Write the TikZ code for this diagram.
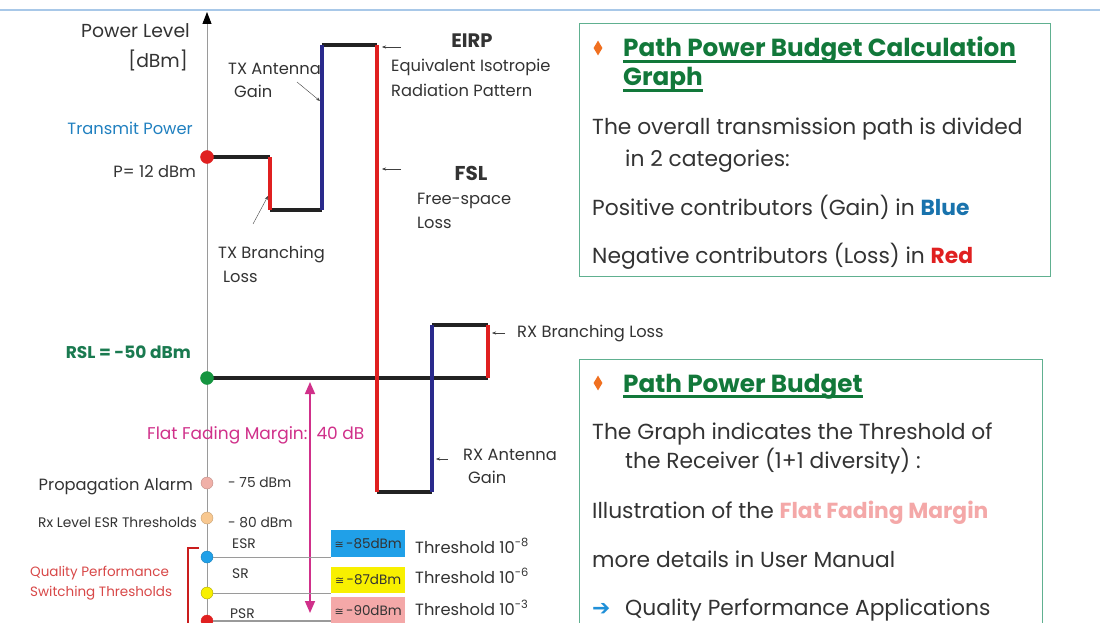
\documentclass[tikz,border=0pt]{standalone}
\usepackage{fontspec}
\setmainfont{Poppins}
\newfontfamily\symfont{DejaVu Sans}
\usetikzlibrary{arrows.meta,positioning,shapes.geometric}

\definecolor{stepblack}{HTML}{222222}
\definecolor{gainblue}{HTML}{2A2A8C}
\definecolor{lossred}{HTML}{E02020}
\definecolor{axisgray}{HTML}{9A9A9A}
\definecolor{txtgray}{HTML}{333333}
\definecolor{txblue}{HTML}{2080C0}
\definecolor{rslgreen}{HTML}{1A7A50}
\definecolor{ffmag}{HTML}{D0308A}
\definecolor{panelgreen}{HTML}{60B090}
\definecolor{headgreen}{HTML}{12783A}
\definecolor{bulletorange}{HTML}{F07020}
\definecolor{topblue}{HTML}{A8C8E8}
\definecolor{qpred}{HTML}{D84848}
\definecolor{esrblue}{HTML}{20A0E8}
\definecolor{sryellow}{HTML}{F8F000}
\definecolor{psrpink}{HTML}{F4A8A8}
\definecolor{palarm}{HTML}{F0B0A8}
\definecolor{esrorange}{HTML}{F8C890}
\definecolor{arrowblue}{HTML}{2090D8}

\begin{document}
\begin{tikzpicture}[x=1pt,y=-1pt,>=Latex,
  lvl/.style={line width=3.5pt,draw=stepblack},
  gain/.style={line width=4.5pt,draw=gainblue},
  loss/.style={line width=4.5pt,draw=lossred},
  lbl/.style={font=\fontsize{16.3}{18}\selectfont,text=txtgray,inner sep=0pt},
  small/.style={font=\fontsize{13.8}{16}\selectfont},
  lead/.style={-{Stealth[length=4pt,width=3pt]},thin,draw=darkgray},
  dot/.style={circle,draw,minimum size=12pt,inner sep=0pt},
  thrbox/.style={minimum width=74pt,minimum height=27pt,inner sep=1pt,font=\fontsize{13.5}{15}\selectfont,text=txtgray},
  thrline/.style={draw=axisgray,line width=1pt},
  panel/.style={draw=panelgreen,line width=1pt},
  head/.style={font=\fontsize{24.7}{28}\selectfont\bfseries,text=headgreen,inner sep=0pt},
  body/.style={font=\fontsize{21.8}{25}\selectfont,text=txtgray,inner sep=0pt},
  bullet/.style={diamond,fill=bulletorange,minimum width=9pt,minimum height=15pt,inner sep=0pt}]
\clip (0,0) rectangle (1100,623);
\fill[white] (0,0) rectangle (1100,623);
\draw[topblue,line width=1.2pt] (0,10) -- (1100,10);

% power axis
\coordinate (ybot) at (207,623);
\coordinate (ytop) at (207,12);
\draw[axisgray,line width=0.9pt,-{Triangle[length=12pt,width=9pt,color=black]}] (ybot) -- (ytop);
\node[lbl,font=\fontsize{18.8}{21}\selectfont,anchor=base east] (plev) at (190,38) {Power Level};
\node[lbl,font=\fontsize{18.8}{21}\selectfont,anchor=base east] (pdbm) at (188,68) {[dBm]};

% level steps
\coordinate (tx) at (207,157);
\coordinate (b1) at (270,157);
\coordinate (b2) at (270,210);
\coordinate (a1) at (322,210);
\coordinate (a2) at (322,45);
\coordinate (e1) at (377,45);
\coordinate (e2) at (377,492);
\coordinate (r1) at (432,492);
\coordinate (r2) at (432,325);
\coordinate (r3) at (488,325);
\coordinate (r4) at (488,378);
\coordinate (rsl) at (207,378);
\draw[lvl] (rsl) -- (r4);
\draw[lvl] (tx) -- (b1);
\draw[lvl] (b2) -- (a1);
\draw[lvl] (a2) -- (e1);
\draw[lvl] (e2) -- (r1);
\draw[lvl] (r2) -- (r3);
\draw[loss] (b1) -- (b2);
\draw[gain] (a1) -- (a2);
\draw[loss] (e1) -- (e2);
\draw[gain] (r1) -- (r2);
\draw[loss] (r3) -- (r4);
\node[dot,minimum size=13pt,draw=lossred,fill=lossred] (ptx) at (tx) {};
\node[dot,minimum size=13pt,draw=rslgreen!80!green,fill=rslgreen!80!green] (prsl) at (rsl) {};

% transmit side labels
\node[lbl,text=txblue,anchor=base east] (txp) at (193,135) {Transmit Power};
\node[lbl,anchor=base east] (p12) at (196,177) {P= 12 dBm};
\node[lbl,anchor=base west] (txant) at (228,75) {TX Antenna};
\node[lbl,anchor=base west] (txgain) at (234,98) {Gain};
\coordinate (txantA) at (297,82);
\coordinate (txantB) at (320,101);
\draw[lead] (txantA) -- (txantB);
\node[lbl,anchor=base west] (txbr) at (218,258) {TX Branching};
\node[lbl,anchor=base west] (txloss) at (223,282) {Loss};
\coordinate (txbrA) at (253,224);
\coordinate (txbrB) at (268,196);
\draw[lead] (txbrA) -- (txbrB);

\node[lbl,font=\fontsize{19.5}{21}\selectfont\bfseries,anchor=base] (eirp) at (472,48) {EIRP};
\node[lbl,anchor=base west] (eirp1) at (391,72) {Equivalent Isotropie};
\node[lbl,anchor=base west] (eirp2) at (391,97) {Radiation Pattern};
\coordinate (eirpA) at (401,47);
\coordinate (eirpB) at (382,47);
\draw[lead] (eirpA) -- (eirpB);
\node[lbl,font=\fontsize{20}{22}\selectfont\bfseries,anchor=base] (fsl) at (471,180) {FSL};
\node[lbl,anchor=base west] (fsl1) at (417,204) {Free-space};
\node[lbl,anchor=base west] (fsl2) at (417,228) {Loss};
\coordinate (fslA) at (401,169);
\coordinate (fslB) at (382,169);
\draw[lead] (fslA) -- (fslB);

% receive side labels
\node[lbl,anchor=base west] (rxbr) at (517,337) {RX Branching Loss};
\coordinate (rxbrA) at (505,333);
\coordinate (rxbrB) at (492,333);
\draw[lead] (rxbrA) -- (rxbrB);
\node[lbl,anchor=base west] (rxant) at (463,460) {RX Antenna};
\node[lbl,anchor=base west] (rxgain) at (468,483) {Gain};
\coordinate (rxantA) at (448,459);
\coordinate (rxantB) at (436,459);
\draw[lead] (rxantA) -- (rxantB);
\node[lbl,font=\fontsize{17}{19}\selectfont\bfseries,text=rslgreen,anchor=base east] (rsltxt) at (191,358) {RSL = -50 dBm};

% flat fading margin
\coordinate (ffTop) at (310,382);
\coordinate (ffBot) at (310,613);
\draw[ffmag,line width=1.6pt,{Triangle[length=12pt,width=10pt]}-{Triangle[length=12pt,width=10pt]}] (ffTop) -- (ffBot);
\node[lbl,font=\fontsize{17}{19}\selectfont,text=ffmag,anchor=base west] (ffm) at (147,439) {Flat Fading Margin:\ \ 40 dB};

% alarm levels
\node[dot,draw=palarm!80!black,fill=palarm] (dalarm) at (207,483) {};
\node[lbl,anchor=base east] (alarm) at (193,490) {Propagation Alarm};
\node[lbl,small,anchor=base west] (alarmv) at (228,487) {- 75 dBm};
\node[dot,draw=esrorange!80!black,fill=esrorange] (desrlvl) at (207,518) {};
\node[lbl,small,anchor=base east] (esrlvl) at (197,527) {Rx Level ESR Thresholds};
\node[lbl,small,anchor=base west] (esrlvlv) at (228,527) {- 80 dBm};

% switching thresholds
\node[thrbox,fill=esrblue,anchor=south west] (b85) at (331,557) {{\symfont\fontsize{11}{13}\selectfont ≅}\,-85dBm};
\node[thrbox,fill=sryellow,anchor=south west,minimum height=26pt,text depth=-4pt] (b87) at (331,593) {{\symfont\fontsize{11}{13}\selectfont ≅}\,-87dBm};
\node[thrbox,fill=psrpink,anchor=north west] (b90) at (331,597) {{\symfont\fontsize{11}{13}\selectfont ≅}\,-90dBm};
\node[dot,draw=esrblue!80!black,fill=esrblue] (desr) at (207,557) {};
\node[dot,draw=sryellow!70!black,fill=sryellow] (dsr) at (207,593) {};
\node[dot,draw=lossred,fill=lossred] (dpsr) at (207,621) {};
\coordinate (psrEnd) at (331,621);
\draw[thrline] (desr) -- (b85.south west);
\draw[thrline] (dsr) -- (b87.south west);
\draw[thrline,line width=2pt] (dpsr) -- (psrEnd);
\node[lbl,small,anchor=base west] (esr) at (232,548) {ESR};
\node[lbl,small,anchor=base west] (sr) at (232,578) {SR};
\node[lbl,small,anchor=base west] (psr) at (230,618) {PSR};
\node[lbl,anchor=base west] (t8) at (415,553) {Threshold 10\textsuperscript{-8}};
\node[lbl,anchor=base west] (t6) at (415,583) {Threshold 10\textsuperscript{-6}};
\node[lbl,anchor=base west] (t3) at (415,615) {Threshold 10\textsuperscript{-3}};
\coordinate (brTop) at (199,548);
\coordinate (brBot) at (188,625);
\draw[lossred!90!black,line width=1.8pt] (brTop) -| (brBot);
\node[lbl,font=\fontsize{13.5}{20}\selectfont,text=qpred,align=left,anchor=north west] (qps) at (30,566) {Quality Performance\\Switching Thresholds};

% calculation graph panel
\draw[panel] (579,24) rectangle (1050,276);
\node[bullet] (bul1) at (598,48) {};
\node[head,anchor=base west] (hd1a) at (623,57) {Path Power Budget Calculation};
\node[head,anchor=base west] (hd1b) at (623,86) {Graph};
\draw[headgreen,line width=2.5pt] ([yshift=-4.5pt]hd1a.base west) -- ([yshift=-4.5pt]hd1a.base east);
\draw[headgreen,line width=2.5pt] ([yshift=-4.5pt]hd1b.base west) -- ([yshift=-4.5pt]hd1b.base east);
\node[body,anchor=base west] (ov1) at (592,135) {The overall transmission path is divided};
\node[body,anchor=base west] (ov2) at (625,167) {in 2 categories:};
\node[body,anchor=base west] (pos) at (592,215) {Positive contributors (Gain) in \textbf{\color{arrowblue!80!black}Blue}};
\node[body,anchor=base west] (neg) at (592,263) {Negative contributors (Loss) in \textbf{\color{lossred}Red}};

% power budget panel
\draw[panel] (579,359) rectangle (1042,640);
\node[bullet] (bul2) at (598,383) {};
\node[head,anchor=base west] (hd2) at (623,392) {Path Power Budget};
\draw[headgreen,line width=2.5pt] ([yshift=-4.5pt]hd2.base west) -- ([yshift=-4.5pt]hd2.base east);
\node[body,anchor=base west] (gr1) at (592,439) {The Graph indicates the Threshold of};
\node[body,anchor=base west] (gr2) at (625,468) {the Receiver (1+1 diversity) :};
\node[body,anchor=base west] (ill) at (592,518) {Illustration of the \textbf{\color{psrpink}Flat Fading Margin}};
\node[body,anchor=base west] (man) at (592,567) {more details in User Manual};
\node[body,anchor=base west,text=arrowblue] (arr) at (592,615) {\symfont ➔};
\node[body,anchor=base west] (qpa) at (625,615) {Quality Performance Applications};
\end{tikzpicture}
\end{document}
